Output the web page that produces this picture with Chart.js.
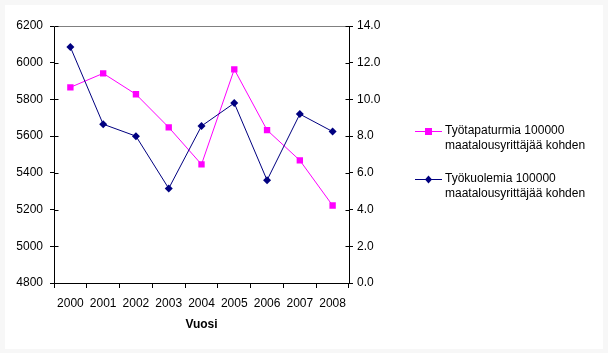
<!DOCTYPE html>
<html>
<head>
<meta charset="utf-8">
<script src="https://cdn.jsdelivr.net/npm/chart.js@4/dist/chart.umd.min.js"></script>
<style>
  html, body { margin: 0; padding: 0; background: #f7f7f7; }
  #wrap { width: 608px; height: 353px; }
</style>
</head>
<body>
<div id="wrap"><canvas id="chart" width="608" height="353"></canvas></div>
<script>
// data
var years = ['2000', '2001', '2002', '2003', '2004', '2005', '2006', '2007', '2008'];
var accidents = [5866, 5942, 5828, 5648, 5446, 5964, 5633, 5468, 5222];   // left axis
var deaths = [12.85, 8.65, 8.0, 5.15, 8.55, 9.8, 5.6, 9.2, 8.25];           // right axis
var accidentsLabel = ['Työtapaturmia 100000', 'maatalousyrittäjää kohden'];
var deathsLabel = ['Työkuolemia 100000', 'maatalousyrittäjää kohden'];

var FONT = 'Liberation Sans, Arial, sans-serif';

// white sheet with a faint frame, gray top border of the plot area,
// crossing tick marks on the value axes and the hand placed legend
var decor = {
  id: 'decor',
  beforeDraw: function(chart) {
    var ctx = chart.ctx;
    ctx.save();
    ctx.fillStyle = '#f7f7f7';
    ctx.fillRect(0, 0, chart.width, chart.height);
    ctx.fillStyle = '#ffffff';
    ctx.fillRect(5, 5, 598, 344);
    ctx.restore();
  },
  afterDatasetsDraw: function(chart) {
    var ctx = chart.ctx;
    var a = chart.chartArea;
    ctx.save();
    ctx.strokeStyle = '#808080';
    ctx.lineWidth = 1;
    ctx.beginPath();
    ctx.moveTo(a.left, Math.round(a.top) + 0.5);
    ctx.lineTo(a.right, Math.round(a.top) + 0.5);
    ctx.stroke();

    ctx.strokeStyle = '#000000';
    ['y', 'y1'].forEach(function(id) {
      var s = chart.scales[id];
      var x = id === 'y' ? Math.round(a.left) + 0.5 : Math.round(a.right) + 0.5;
      var dir = id === 'y' ? 1 : -1;
      s.ticks.forEach(function(t, i) {
        var py = Math.round(s.getPixelForTick(i)) + 0.5;
        ctx.beginPath();
        ctx.moveTo(x, py);
        ctx.lineTo(x + dir * 4, py);
        ctx.stroke();
      });
    });
    ctx.restore();
  },
  afterDraw: function(chart) {
    var ctx = chart.ctx;
    ctx.save();
    ctx.font = '12px ' + FONT;
    ctx.textBaseline = 'middle';
    ctx.textAlign = 'left';
    var rows = [131, 179];
    chart.data.datasets.forEach(function(ds, i) {
      var y = rows[i] + 0.5;
      ctx.strokeStyle = ds.borderColor;
      ctx.lineWidth = 1;
      ctx.beginPath();
      ctx.moveTo(415, y);
      ctx.lineTo(442, y);
      ctx.stroke();
      ctx.fillStyle = ds.pointBackgroundColor;
      if (ds.pointStyle === 'rect') {
        ctx.fillRect(425, y - 3.5, 7, 7);
      } else {
        ctx.beginPath();
        ctx.moveTo(428.5, y - 4);
        ctx.lineTo(432, y);
        ctx.lineTo(428.5, y + 4);
        ctx.lineTo(425, y);
        ctx.closePath();
        ctx.fill();
      }
      ctx.fillStyle = '#000000';
      ds.label.forEach(function(line, k) {
        ctx.fillText(line, 445, rows[i] + k * 15);
      });
    });
    ctx.restore();
  }
};

new Chart(document.getElementById('chart'), {
  type: 'line',
  data: {
    labels: years,
    datasets: [
      {
        label: accidentsLabel,
        data: accidents,
        yAxisID: 'y',
        borderColor: '#ff00ff',
        backgroundColor: '#ff00ff',
        pointBackgroundColor: '#ff00ff',
        pointBorderColor: '#ff00ff',
        borderWidth: 1,
        pointStyle: 'rect',
        pointRadius: 4.5,
        pointBorderWidth: 0,
        tension: 0,
        order: 1
      },
      {
        label: deathsLabel,
        data: deaths,
        yAxisID: 'y1',
        borderColor: '#000080',
        backgroundColor: '#000080',
        pointBackgroundColor: '#000080',
        pointBorderColor: '#000080',
        borderWidth: 1,
        pointStyle: 'rectRot',
        pointRadius: 4,
        pointBorderWidth: 0,
        tension: 0,
        order: 0
      }
    ]
  },
  options: {
    responsive: false,
    animation: false,
    layout: { padding: { top: 26, left: 0, right: 0, bottom: 0 } },
    plugins: {
      legend: { display: false },
      tooltip: { enabled: false }
    },
    scales: {
      x: {
        offset: true,
        grid: { display: true, drawOnChartArea: false, offset: true, color: '#000000', tickLength: 5 },
        border: { color: '#000000', width: 1 },
        ticks: { color: '#000000', font: { family: FONT, size: 12 }, padding: 8, maxRotation: 0, autoSkip: false },
        title: {
          display: true,
          text: 'Vuosi',
          color: '#000000',
          font: { family: FONT, size: 12, weight: 'bold' },
          padding: { top: 6, bottom: 21 }
        },
        afterFit: function(s) { s.height = 70; }
      },
      y: {
        position: 'left',
        min: 4800,
        max: 6200,
        grid: { display: true, drawOnChartArea: false, color: '#000000', tickLength: 4 },
        border: { color: '#000000', width: 1 },
        ticks: {
          stepSize: 200,
          color: '#000000',
          font: { family: FONT, size: 12 },
          padding: 7,
          callback: function(v) { return String(v); }
        },
        afterFit: function(s) { s.width = 54; }
      },
      y1: {
        position: 'right',
        min: 0,
        max: 14,
        grid: { display: true, drawOnChartArea: false, color: '#000000', tickLength: 4 },
        border: { color: '#000000', width: 1 },
        ticks: {
          stepSize: 2,
          color: '#000000',
          font: { family: FONT, size: 12 },
          padding: 4,
          callback: function(v) { return Number(v).toFixed(1); }
        },
        afterFit: function(s) { s.width = 259; }
      }
    }
  },
  plugins: [decor]
});
</script>
</body>
</html>
